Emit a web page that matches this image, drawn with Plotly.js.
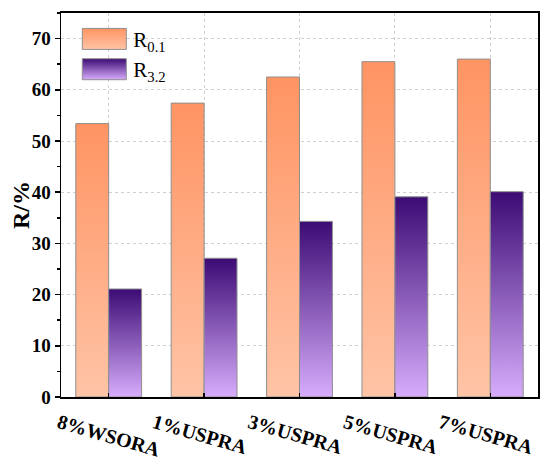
<!DOCTYPE html>
<html><head><meta charset="utf-8">
<script src="https://cdn.plot.ly/plotly-3.0.1.min.js"></script>
<style>body{margin:0;background:#fff;}</style>
</head><body>
<div id="chart" style="width:550px;height:461px;"></div>
<script>
const categories = ['8%WSORA', '1%USPRA', '3%USPRA', '5%USPRA', '7%USPRA'];
const r01 = [53.4, 57.4, 62.5, 65.5, 66.0];
const r32 = [21.1, 27.1, 34.3, 39.1, 40.1];
const seriesNames = ['R<sub>0.1</sub>', 'R<sub>3.2</sub>'];
const gradTop = ['#FF9463', '#3C0B74'];
const gradBottom = ['#FFC4A6', '#D7ACFC'];

const FONT = 'Liberation Serif, Times New Roman, serif';

const traces = [r01, r32].map((vals, i) => ({
  type: 'bar',
  x: categories,
  y: vals,
  name: seriesNames[i],
  marker: {color: gradTop[i], line: {color: '#8f8f8f', width: 1}},
  hoverinfo: 'none'
}));

const layout = {
  width: 550, height: 461,
  margin: {l: 61, r: 12, t: 13, b: 64},
  paper_bgcolor: '#fff', plot_bgcolor: '#fff',
  barmode: 'group', bargap: 0.31, bargroupgap: 0,
  font: {family: FONT, color: '#000'},
  showlegend: true,
  legend: {
    x: 0.03, y: 0.985, xanchor: 'left', yanchor: 'top',
    bgcolor: 'rgba(0,0,0,0)', borderwidth: 0,
    font: {family: FONT, size: 21, color: '#000'},
    itemwidth: 48, tracegroupgap: 0
  },
  xaxis: {
    type: 'category', range: [-0.5, 4.5],
    showline: true, linecolor: '#000', linewidth: 2, mirror: true,
    ticks: 'inside', ticklen: 4, tickwidth: 1.5, tickcolor: '#000',
    showgrid: true, gridcolor: '#d0d0d0', griddash: 'dot', gridwidth: 1,
    tickangle: 16, ticklabelshift: -50, ticklabelstandoff: 5,
    tickfont: {family: FONT, size: 20, weight: 'bold', color: '#000'},
    zeroline: false
  },
  yaxis: {
    range: [0, 75], dtick: 10, tick0: 0,
    showline: true, linecolor: '#000', linewidth: 1.5, mirror: true,
    ticks: 'outside', ticklen: 5, tickwidth: 1.5, tickcolor: '#000',
    minor: {dtick: 5, ticks: 'outside', ticklen: 3, tickwidth: 1.5, tickcolor: '#000', showgrid: false},
    showgrid: true, gridcolor: '#d0d0d0', griddash: 'dot', gridwidth: 1,
    zeroline: false,
    tickfont: {family: FONT, size: 19, weight: 'bold', color: '#000'},
    title: {text: 'R/%', font: {family: FONT, size: 24, weight: 'bold', color: '#000'}}
  }
};

function applyGradients() {
  const gd = document.getElementById('chart');
  const svg = gd.querySelector('svg.main-svg');
  const NS = 'http://www.w3.org/2000/svg';
  let defs = svg.querySelector('defs#gradDefs');
  if (!defs) {
    defs = document.createElementNS(NS, 'defs');
    defs.id = 'gradDefs';
    svg.insertBefore(defs, svg.firstChild);
    gradTop.forEach((c, i) => {
      const lg = document.createElementNS(NS, 'linearGradient');
      lg.id = 'barGrad' + i;
      lg.setAttribute('x1', '0'); lg.setAttribute('y1', '0');
      lg.setAttribute('x2', '0'); lg.setAttribute('y2', '1');
      [[0, c], [1, gradBottom[i]]].forEach(([o, col]) => {
        const s = document.createElementNS(NS, 'stop');
        s.setAttribute('offset', o);
        s.setAttribute('stop-color', col);
        lg.appendChild(s);
      });
      defs.appendChild(lg);
    });
  }
  gd.querySelectorAll('.barlayer .trace.bars').forEach((t, i) => {
    t.querySelectorAll('path').forEach(p => { p.style.fill = 'url(#barGrad' + i + ')'; });
  });
  gd.querySelectorAll('.legend .traces').forEach((t, i) => {
    t.querySelectorAll('path.legendbar, path.legendundefined').forEach(p => {
      p.setAttribute('d', 'M-22,10.5H22V-10.5H-22Z');
      p.style.fill = 'url(#barGrad' + i + ')';
    });
  });
  // nudge the y-axis title slightly towards the axis
  const yt = gd.querySelector('.ytitle');
  if (yt) {
    const x = parseFloat(yt.getAttribute('x')) + 8;
    const y = parseFloat(yt.getAttribute('y'));
    yt.setAttribute('x', x);
    yt.setAttribute('transform', 'rotate(-90,' + x + ',' + y + ')');
  }
}

Plotly.newPlot('chart', traces, layout, {staticPlot: true, displayModeBar: false}).then(applyGradients);
</script>
</body></html>
